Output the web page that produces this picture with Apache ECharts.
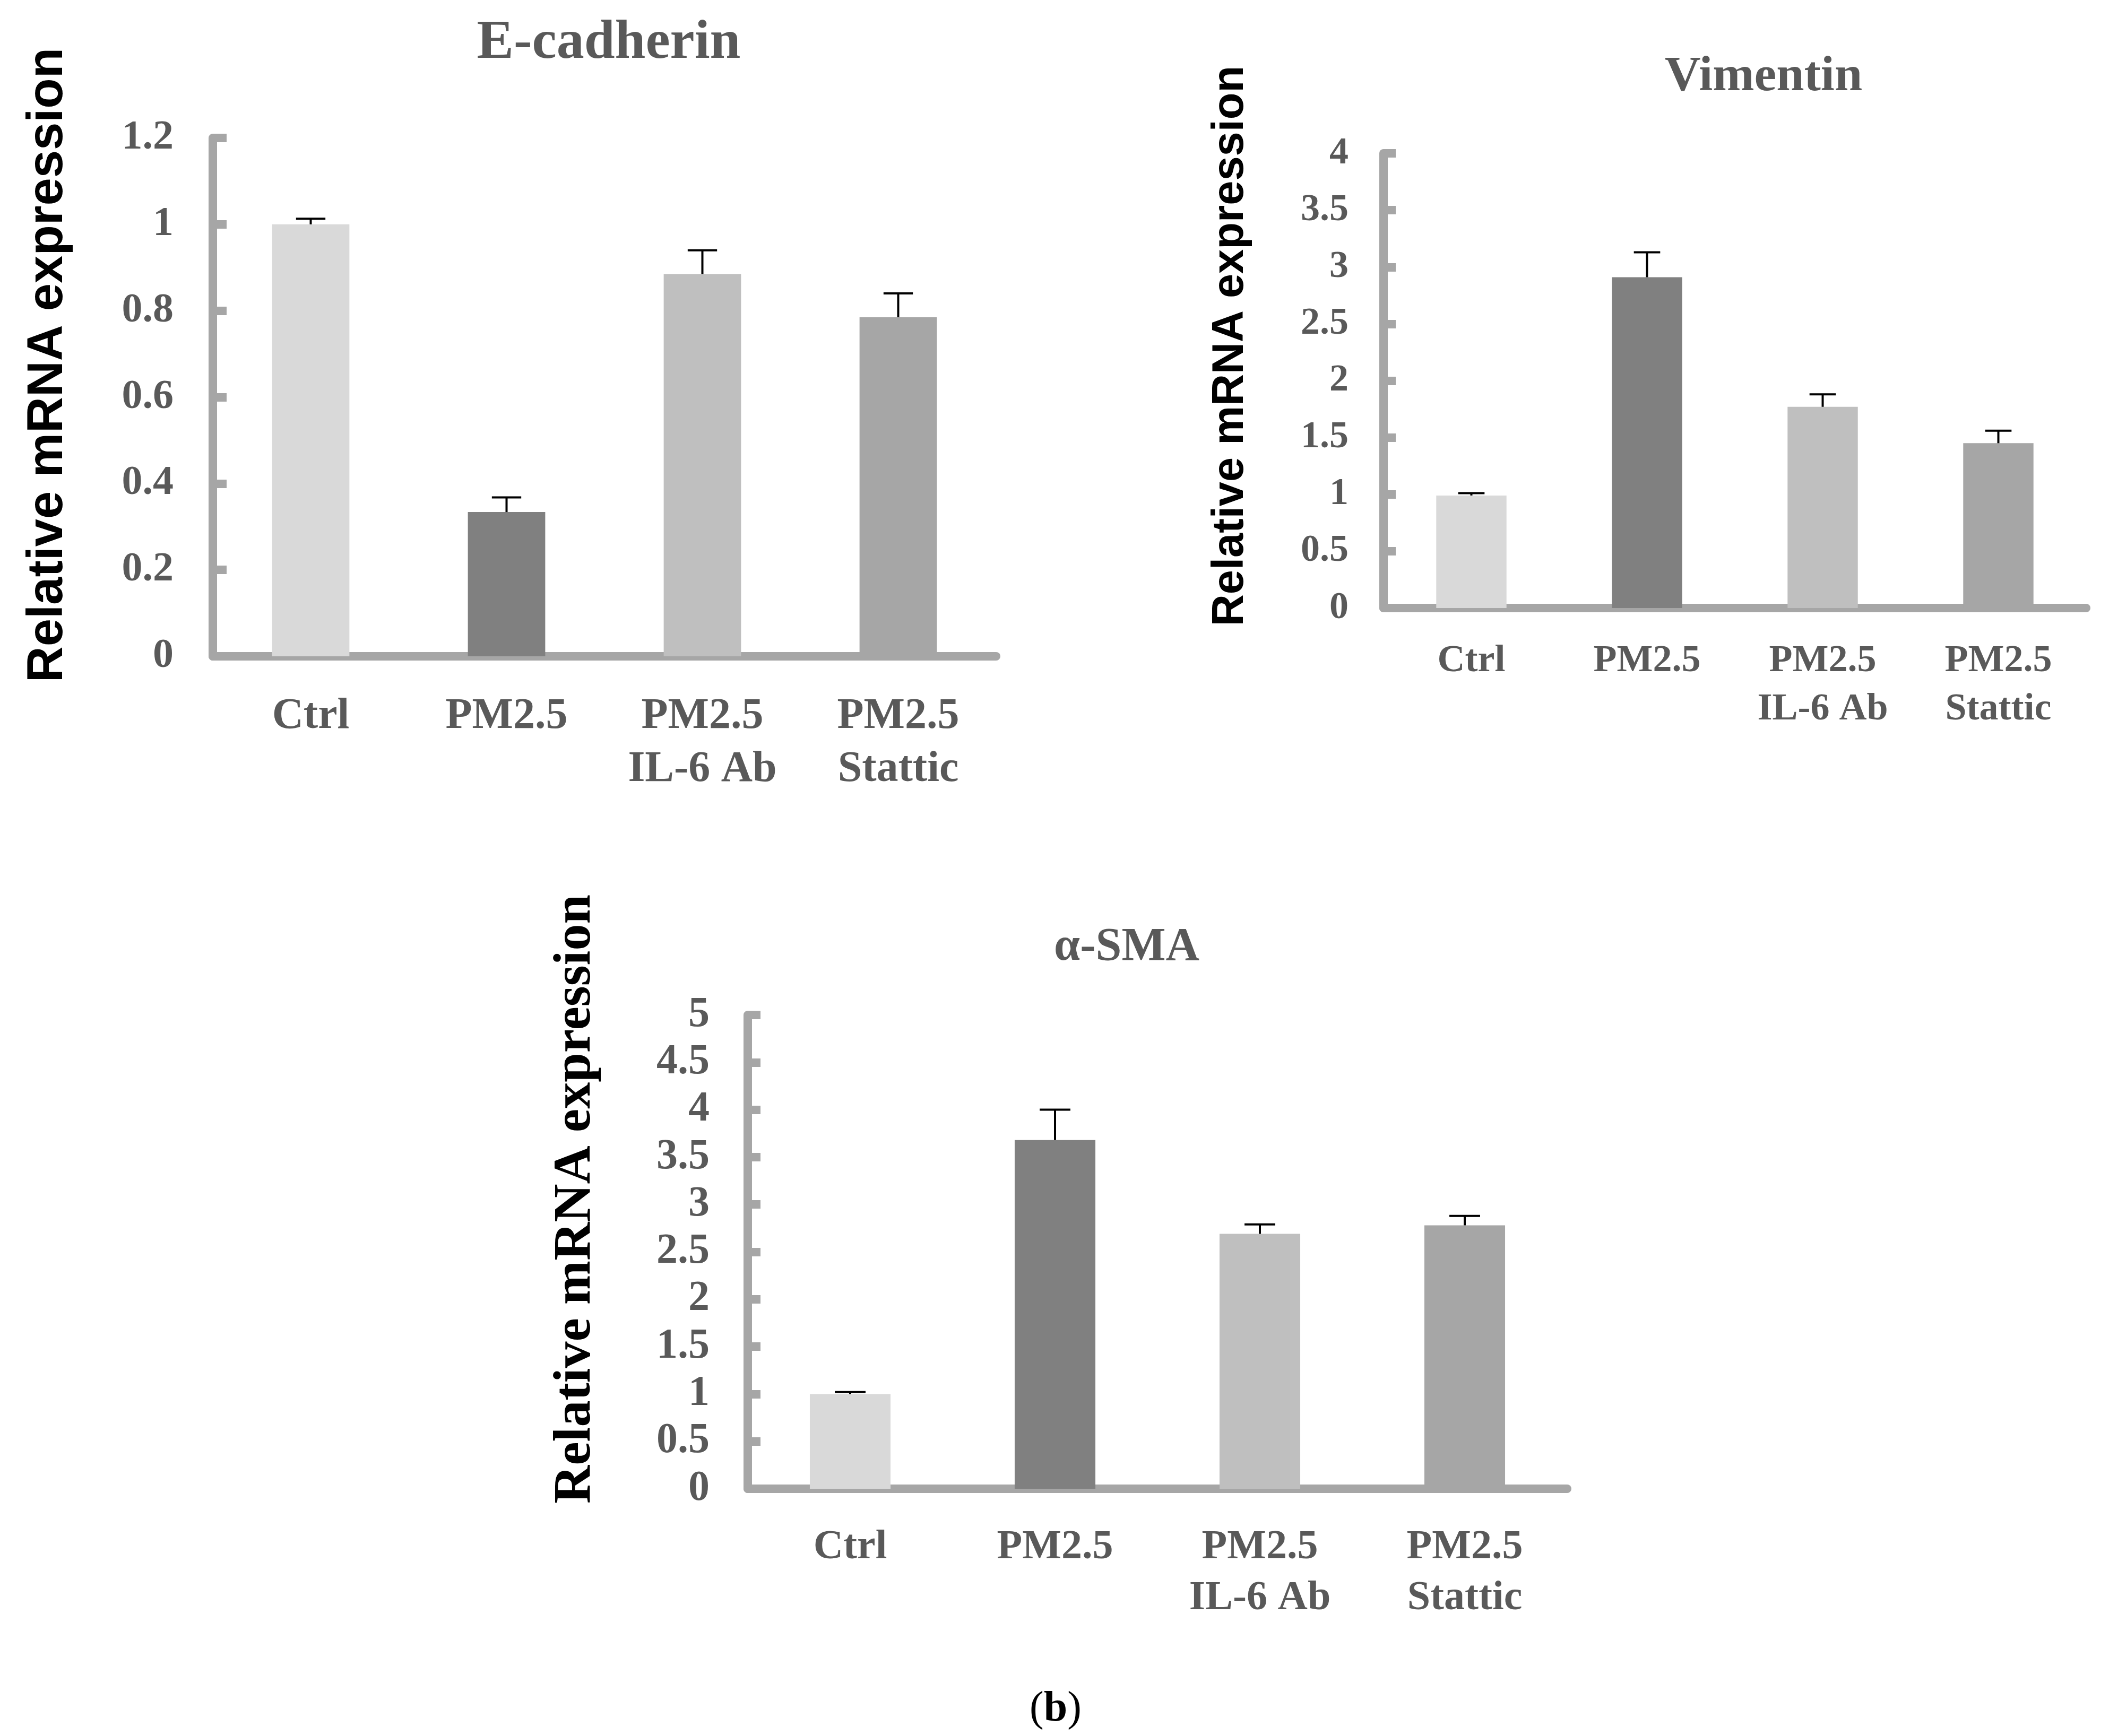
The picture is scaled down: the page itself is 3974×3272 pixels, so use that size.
<!DOCTYPE html>
<html>
<head>
<meta charset="utf-8">
<script src="https://cdn.jsdelivr.net/npm/echarts@6/dist/echarts.min.js"></script>
<style>html,body{margin:0;padding:0;background:#fff;}#c{width:3974px;height:3272px;}</style>
</head>
<body>
<div id="c"></div>
<script>
const categories = ['Ctrl', 'PM2.5', 'PM2.5\nIL-6 Ab', 'PM2.5\nStattic'];
const barColors = ['#D9D9D9', '#808080', '#BFBFBF', '#A6A6A6'];

const ecadMean = [1.00, 0.334, 0.885, 0.785];
const ecadErr  = [0.013, 0.034, 0.055, 0.055];

const vimMean = [0.99, 2.91, 1.77, 1.45];
const vimErr  = [0.02, 0.22, 0.11, 0.11];

const smaMean = [1.00, 3.68, 2.69, 2.78];
const smaErr  = [0.02, 0.32, 0.10, 0.10];

const titles = ['E-cadherin', 'Vimentin', '\u03b1-SMA'];
const yName = 'Relative mRNA expression';

const SERIF = '"Liberation Serif", serif';
const SANS = '"Liberation Sans", sans-serif';
const GRAY = '#595959';
const AXIS = '#A6A6A6';

const panels = [
  { mean: ecadMean, err: ecadErr, max: 1.2, interval: 0.2,
    grid: { left: 401, top: 260, width: 1476, height: 977 },
    tickSize: 78, catSize: 82, catLH: 100, labelMargin: 74, catMargin: 64, tickLen: 26, barW: '39.5%',
    title: { x: 1147, y: 82, size: 104 },
    yname: { x: 91, y: 688, size: 94, font: SANS } },
  { mean: vimMean, err: vimErr, max: 4, interval: 0.5,
    grid: { left: 2607, top: 289, width: 1324, height: 857 },
    tickSize: 72, catSize: 72, catLH: 91, labelMargin: 66, catMargin: 55, tickLen: 23, barW: '40%',
    title: { x: 3323, y: 146, size: 94 },
    yname: { x: 2319, y: 652, size: 83, font: SANS } },
  { mean: smaMean, err: smaErr, max: 5, interval: 0.5,
    grid: { left: 1409, top: 1913, width: 1544, height: 893 },
    tickSize: 80, catSize: 78, catLH: 96, labelMargin: 72, catMargin: 63, tickLen: 24, barW: '39.4%',
    title: { x: 2123, y: 1786, size: 88 },
    yname: { x: 1085, y: 2260, size: 100, font: SERIF } }
];

const grid = [], xAxis = [], yAxis = [], series = [], graphic = [];

panels.forEach((p, i) => {
  grid.push(Object.assign({ outerBoundsMode: 'none', containLabel: false }, p.grid));
  xAxis.push({
    type: 'category', gridIndex: i, data: categories,
    axisLine: { show: true, lineStyle: { color: AXIS, width: 16 } },
    axisTick: { show: false },
    axisLabel: { color: GRAY, fontFamily: SERIF, fontWeight: 'bold', fontSize: p.catSize,
                 lineHeight: p.catLH, margin: p.catMargin, interval: 0 }
  });
  yAxis.push({
    type: 'value', gridIndex: i, min: 0, max: p.max, interval: p.interval,
    splitLine: { show: false },
    axisLine: { show: true, lineStyle: { color: AXIS, width: 16 } },
    axisTick: { show: true, inside: true, length: p.tickLen, lineStyle: { color: AXIS, width: 16 } },
    axisLabel: { color: GRAY, fontFamily: SERIF, fontWeight: 'bold', fontSize: p.tickSize, margin: p.labelMargin }
  });
  series.push({
    type: 'bar', xAxisIndex: i, yAxisIndex: i, barWidth: p.barW,
    data: p.mean.map((v, k) => ({ value: v, itemStyle: { color: barColors[k] } })),
    silent: true, animation: false
  });
  series.push({
    type: 'custom', xAxisIndex: i, yAxisIndex: i, z: 5, animation: false, silent: true,
    data: p.mean.map((v, k) => [k, v, v + p.err[k]]),
    renderItem: function (params, api) {
      const x = api.value(0);
      const p0 = api.coord([x, api.value(1)]);
      const p1 = api.coord([x, api.value(2)]);
      const band = api.size([1, 0])[0];
      const hw = band * 0.075;
      const st = { stroke: '#000', lineWidth: 4 };
      return { type: 'group', children: [
        { type: 'line', shape: { x1: p0[0], y1: p0[1], x2: p1[0], y2: p1[1] }, style: st },
        { type: 'line', shape: { x1: p1[0] - hw, y1: p1[1], x2: p1[0] + hw, y2: p1[1] }, style: st }
      ] };
    }
  });
  graphic.push({
    type: 'text', x: p.title.x, y: p.title.y,
    style: { text: titles[i], fill: GRAY, font: 'bold ' + p.title.size + 'px ' + SERIF,
             textAlign: 'center', textVerticalAlign: 'middle' }
  });
  graphic.push({
    type: 'text', x: p.yname.x, y: p.yname.y, rotation: Math.PI / 2,
    style: { text: yName, fill: '#000', font: 'bold ' + p.yname.size + 'px ' + p.yname.font,
             textAlign: 'center', textVerticalAlign: 'middle' }
  });
});

graphic.push({
  type: 'text', x: 1989, y: 3222,
  style: { text: '{r|(}{b|b}{r|)}', textAlign: 'center', textVerticalAlign: 'middle',
           rich: { r: { font: '80px ' + SERIF, fill: '#000' }, b: { font: 'bold 80px ' + SERIF, fill: '#000' } } }
});

const chart = echarts.init(document.getElementById('c'), null, { renderer: 'canvas' });
chart.setOption({ animation: false, backgroundColor: '#fff', grid, xAxis, yAxis, series, graphic });
</script>
</body>
</html>
